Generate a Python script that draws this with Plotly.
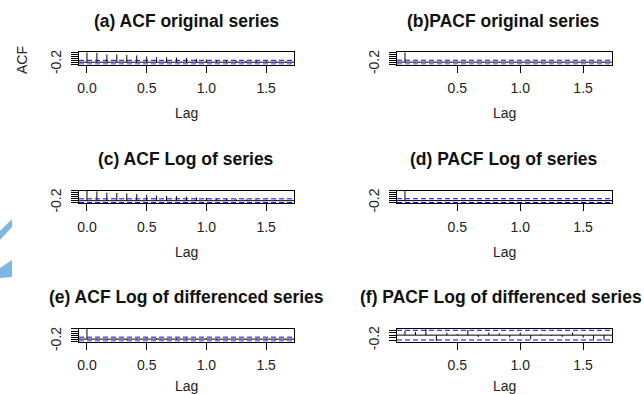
import plotly.graph_objects as go

# ---------------- data ----------------
freq = 12
acf_lags = [k / freq for k in range(0, 21)]
pacf_lags = [k / freq for k in range(1, 21)]

acf_original = [1.00, 0.96, 0.80, 0.80, 0.74, 0.69, 0.58, 0.52, 0.50, 0.47, 0.43,
                0.33, 0.28, 0.19, 0.17, 0.15, 0.13, 0.12, 0.10, 0.08, 0.07]
pacf_original = [0.96, -0.04, 0.03, -0.03, 0.05, -0.02, 0.02, 0.04, -0.03, 0.02,
                 0.03, -0.04, 0.06, -0.03, 0.02, -0.04, 0.03, -0.02, 0.04, -0.03]
acf_log = [1.00, 0.96, 0.81, 0.79, 0.74, 0.68, 0.59, 0.53, 0.50, 0.46, 0.42,
           0.34, 0.29, 0.20, 0.18, 0.16, 0.14, 0.12, 0.10, 0.09, 0.07]
pacf_log = [0.96, -0.03, 0.02, -0.03, 0.04, -0.02, 0.03, 0.04, -0.03, 0.02,
            0.03, -0.04, 0.05, -0.02, 0.02, -0.03, 0.03, -0.02, 0.04, -0.02]
acf_diff = [1.00, 0.05, -0.08, 0.06, -0.12, 0.04, 0.05, 0.10, -0.06, 0.09, 0.07,
            -0.05, 0.08, -0.10, 0.02, 0.03, -0.06, 0.05, -0.08, -0.10, -0.12]
pacf_diff = [0.16, 0.13, 0.24, -0.23, 0.10, 0.04, 0.20, -0.07, 0.10, 0.07,
             -0.09, 0.10, -0.16, 0.02, -0.03, -0.07, 0.10, -0.10, -0.16, -0.20]
conf_limit = 0.19

titles = ["(a) ACF original series", "(b)PACF original series",
          "(c) ACF Log of series", "(d) PACF Log of series",
          "(e) ACF Log of differenced series", "(f) PACF Log of differenced series"]
x_tick_vals = [0.0, 0.5, 1.0, 1.5]
x_tick_text = ["0.0", "0.5", "1.0", "1.5"]
x_label = "Lag"
y_label = "ACF"

panels = [
    (acf_lags, acf_original), (pacf_lags, pacf_original),
    (acf_lags, acf_log), (pacf_lags, pacf_log),
    (acf_lags, acf_diff), (pacf_lags, pacf_diff),
]

# ---------------- layout geometry (pixels) ----------------
W, H = 644, 394
col_px = [(79, 294), (397, 612)]
row_px = [(52, 64.5), (190.5, 203), (328.5, 341.5)]
title_y = [21, 159, 297]
title_dx = [0, -2, 0, -1, 0, -3.5]
lag_y = [113, 252, 386]

FONT = "Liberation Sans, Arial, sans-serif"
TICK_SIZE = 14
TITLE_SIZE = 17.5


def px_x(v):
    return v / W


def px_y(v):
    return 1 - v / H


def pad_range(lo, hi):
    d = (hi - lo) * 0.04
    return [lo - d, hi + d]


def pretty_ticks(lo, hi):
    span = hi - lo
    step = 0.2 if span > 0.8 else 0.1
    k = -20
    ticks = []
    while k * step <= hi + 1e-9:
        v = round(k * step, 10)
        if v >= lo - 1e-9:
            ticks.append(v)
        k += 1
    return ticks


fig = go.Figure()
layout = dict(
    width=W, height=H, autosize=False,
    margin=dict(l=0, r=0, t=0, b=0, pad=0),
    paper_bgcolor="white", plot_bgcolor="white",
    showlegend=False,
    font=dict(family=FONT, color="black", size=TICK_SIZE),
)
annotations = []
shapes = []

for i, (lags, vals) in enumerate(panels):
    r, c = divmod(i, 2)
    ax = "" if i == 0 else str(i + 1)
    xref, yref = "x" + ax, "y" + ax

    # spikes
    xs, ys = [], []
    for lg, v in zip(lags, vals):
        xs += [lg, lg, None]
        ys += [0, v, None]
    fig.add_trace(go.Scatter(x=xs, y=ys, mode="lines",
                             line=dict(color="black", width=1),
                             xaxis=xref, yaxis=yref, hoverinfo="skip"))

    lo = min(min(vals), -conf_limit)
    hi = max(max(vals), conf_limit)
    yr = pad_range(lo, hi)
    xr = pad_range(min(lags), max(lags))
    yt = pretty_ticks(yr[0], yr[1])
    ytext = ["-0.2" if abs(t + 0.2) < 1e-9 else "" for t in yt]

    x0, x1 = col_px[c]
    y0, y1 = row_px[r]
    layout["xaxis" + ax] = dict(
        domain=[px_x(x0), px_x(x1)], range=xr, anchor=yref, automargin=False,
        showgrid=False, zeroline=False, showline=True, mirror=True,
        linecolor="black", linewidth=1,
        ticks="outside", ticklen=7, tickcolor="black", tickwidth=1,
        tickvals=x_tick_vals, ticktext=x_tick_text,
        tickfont=dict(size=TICK_SIZE, family=FONT, color="#222"),
        ticklabelstandoff=4,
    )
    layout["yaxis" + ax] = dict(
        domain=[px_y(y1), px_y(y0)], range=yr, anchor=xref, automargin=False,
        showgrid=False, zeroline=False, showline=True, mirror=True,
        linecolor="black", linewidth=1,
        ticks="outside", ticklen=7, tickcolor="black", tickwidth=1,
        tickvals=yt, ticktext=ytext, tickangle=-90,
        tickfont=dict(size=TICK_SIZE, family=FONT, color="#222"),
        ticklabelstandoff=4,
    )

    # zero line and confidence limits
    shapes.append(dict(type="line", xref=xref + " domain", yref=yref,
                       x0=0, x1=1, y0=0, y1=0,
                       line=dict(color="black", width=1)))
    for cl in (conf_limit, -conf_limit):
        shapes.append(dict(type="line", xref=xref + " domain", yref=yref,
                           x0=0, x1=1, y0=cl, y1=cl,
                           line=dict(color="blue", width=1, dash="5px,3px")))

    # title and x label
    annotations.append(dict(text="<b>" + titles[i] + "</b>", xref="paper", yref="paper",
                            x=px_x((x0 + x1) / 2 + title_dx[i]), y=px_y(title_y[r]),
                            xanchor="center", yanchor="middle", showarrow=False,
                            font=dict(size=TITLE_SIZE, family=FONT, color="#111")))
    annotations.append(dict(text=x_label, xref="paper", yref="paper",
                            x=px_x((x0 + x1) / 2), y=px_y(lag_y[r]),
                            xanchor="center", yanchor="middle", showarrow=False,
                            font=dict(size=TICK_SIZE, family=FONT, color="#222")))

annotations.append(dict(text=y_label, xref="paper", yref="paper",
                        x=px_x(22), y=px_y(60), textangle=-90,
                        xanchor="center", yanchor="middle", showarrow=False,
                        font=dict(size=TICK_SIZE, family=FONT, color="#222")))

# light-blue decorative arc fragments at the left edge
def pth(pts):
    return "M " + " L ".join(f"{px_x(a)},{px_y(b)}" for a, b in pts) + " Z"

shapes.append(dict(type="path", xref="paper", yref="paper", layer="below",
                   path=pth([(0, 231), (12, 219), (12, 227), (0, 240)]),
                   fillcolor="#7fb6e3", line=dict(width=0)))
shapes.append(dict(type="path", xref="paper", yref="paper", layer="below",
                   path=pth([(0, 268), (12, 260), (12, 277), (0, 278)]),
                   fillcolor="#7fb6e3", line=dict(width=0)))

layout["annotations"] = annotations
layout["shapes"] = shapes
fig.update_layout(**layout)
fig.write_html(
    "out.html",
    config={"displayModeBar": False, "staticPlot": True},
    post_script="document.body.style.margin='0px';document.body.style.overflow='hidden';",
)
